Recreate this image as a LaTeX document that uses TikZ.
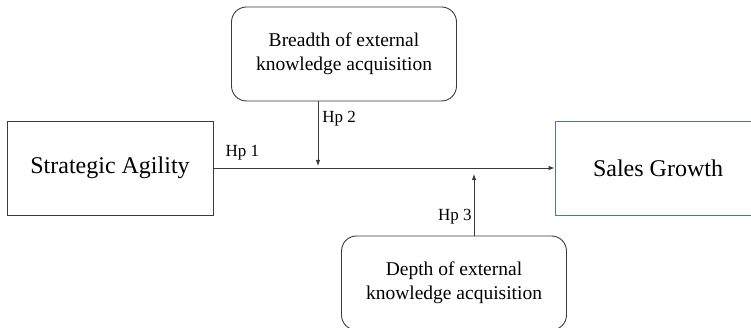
\documentclass[tikz,border=0pt]{standalone}
\usepackage{fontspec}
\setmainfont{Liberation Serif}
\usepackage{tikz}
\usetikzlibrary{arrows.meta,positioning}
\definecolor{boxline}{HTML}{3A3A3A}
\definecolor{growthblue}{HTML}{4A72C0}

\begin{document}
\begin{tikzpicture}[x=1pt,y=-1pt,
    varbox/.style={draw=boxline, line width=0.9pt, minimum width=206pt, minimum height=94pt, font=\fontsize{24}{28}\selectfont},
    modbox/.style={draw=boxline, line width=0.9pt, rounded corners=15pt, minimum width=225pt, minimum height=94pt, align=center, font=\fontsize{19.5}{24}\selectfont},
    hplabel/.style={font=\fontsize{17}{20}\selectfont, inner sep=1pt},
    link/.style={draw=boxline, line width=0.9pt, -{Latex[length=6pt,width=4.5pt]}}]
    \useasboundingbox (0,0) rectangle (751,328);
    % Independent and dependent variables
    \node[varbox] (agility) at (110,168) {Strategic Agility};
    \node[varbox, draw=growthblue] (growth) at (658,168) {Sales Growth};
    % Moderators
    \node[modbox] (breadth) at (344,54) {Breadth of external\\knowledge acquisition};
    \node[modbox] (depth) at (454,283) {Depth of external\\knowledge acquisition};
    % Hypotheses
    \coordinate (hp2end) at (318,166);
    \coordinate (hp3end) at (474,174);
    \draw[link] (agility.east) -- node[pos=0.085, above=6pt, hplabel]{Hp 1} (growth.west);
    \draw[link] (breadth.south -| hp2end) -- node[pos=0.27, right=3pt, hplabel]{Hp 2} (hp2end);
    \draw[link] (depth.north -| hp3end) -- node[pos=0.3, left=1pt, hplabel]{Hp 3} (hp3end);
\end{tikzpicture}
\end{document}
